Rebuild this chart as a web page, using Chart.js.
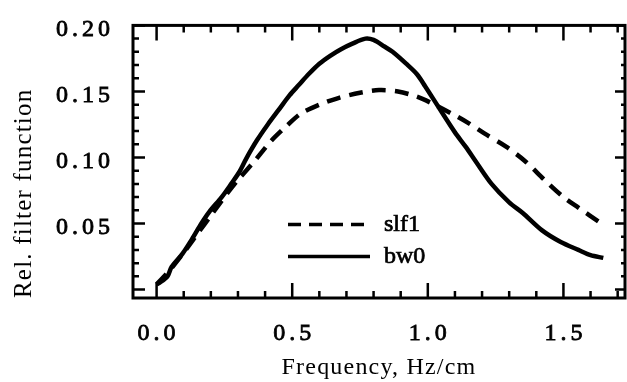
<!DOCTYPE html>
<html>
<head>
<meta charset="utf-8">
<script src="https://cdn.jsdelivr.net/npm/chart.js@4.4.0/dist/chart.umd.min.js"></script>
<style>
  html, body { margin: 0; padding: 0; background: #fff; }
  #c { display: block; width: 627px; height: 382px; }
</style>
</head>
<body>
<canvas id="c" width="627" height="382"></canvas>
<script>
// Relative filter function vs frequency, two filters (slf1 dashed, bw0 solid).
const SERIF = '"Liberation Serif", "Times New Roman", Times, serif';

const X_TICKS = [0.0, 0.5, 1.0, 1.5];
const Y_TICKS = [0.05, 0.10, 0.15, 0.20];

// values
const BW0_FREQ = [0.00, 0.01, 0.04, 0.055, 0.095, 0.13, 0.165, 0.195, 0.24, 0.275, 0.305, 0.33, 0.37, 0.41,
  0.45, 0.49, 0.525, 0.56, 0.60, 0.64, 0.68, 0.72, 0.77, 0.80, 0.84, 0.87, 0.92, 0.96, 0.99, 1.04,
  1.10, 1.14, 1.18, 1.235, 1.30, 1.35, 1.42, 1.49, 1.555, 1.60, 1.647];
const BW0_VAL = [0.004, 0.005, 0.010, 0.017, 0.027, 0.038, 0.050, 0.059, 0.070, 0.080, 0.089, 0.099, 0.113, 0.125,
  0.136, 0.147, 0.155, 0.163, 0.171, 0.177, 0.182, 0.186, 0.190, 0.189, 0.184, 0.180, 0.171, 0.163, 0.154, 0.138,
  0.119, 0.108, 0.096, 0.080, 0.066, 0.058, 0.045, 0.036, 0.030, 0.026, 0.024];

const SLF1_FREQ = [0.00, 0.05, 0.10, 0.15, 0.20, 0.25, 0.30, 0.36, 0.42, 0.48, 0.53, 0.60, 0.67, 0.75, 0.82,
  0.89, 0.96, 1.015, 1.09, 1.15, 1.21, 1.29, 1.36, 1.43, 1.50, 1.555, 1.64];
const SLF1_VAL = [0.004, 0.015, 0.028, 0.042, 0.056, 0.070, 0.083, 0.097, 0.112, 0.124, 0.133, 0.140, 0.145, 0.149, 0.151,
  0.150, 0.146, 0.141, 0.133, 0.126, 0.118, 0.108, 0.097, 0.083, 0.070, 0.062, 0.050];

const zip = (xs, ys) => xs.map((x, i) => ({ x, y: ys[i] }));

// box + inward ticks on all four sides; letter spacing for scanned-looking labels
const frame = {
  id: 'frame',
  beforeDraw(chart) { chart.ctx.letterSpacing = '1.2px'; },
  afterDatasetsDraw(chart) {
    const { ctx, chartArea: a, scales: { x, y } } = chart;
    ctx.save();
    ctx.strokeStyle = '#000';
    ctx.lineWidth = 3;
    ctx.strokeRect(a.left, a.top, a.right - a.left, a.bottom - a.top);
    ctx.lineWidth = 2.5;
    ctx.beginPath();
    for (let i = 0; i <= 17; i++) {
      const px = x.getPixelForValue(i / 10);
      if (px > a.right - 2) continue;
      const len = i % 5 === 0 ? 15 : 7;
      ctx.moveTo(px, a.bottom); ctx.lineTo(px, a.bottom - len);
      ctx.moveTo(px, a.top); ctx.lineTo(px, a.top + len);
    }
    for (let i = 0; i <= 20; i++) {
      const py = y.getPixelForValue(i / 100);
      const major = i % 5 === 0;
      ctx.moveTo(a.left, py); ctx.lineTo(a.left + (major ? 12 : 6), py);
      ctx.moveTo(a.right, py); ctx.lineTo(a.right - (major ? 10 : 4), py);
    }
    ctx.stroke();
    ctx.restore();
    ctx.letterSpacing = '4px'; // tick labels are drawn after this (ticks.z = 1)
  },
  afterDraw(chart) { chart.ctx.letterSpacing = '0px'; },
};

// legend sits inside the plot, below the curves
const innerLegend = {
  id: 'innerLegend',
  afterDraw(chart) {
    const { ctx, chartArea: a } = chart;
    const x0 = a.left + 155, x1 = x0 + 82;
    let y = a.top + 199;
    ctx.save();
    ctx.letterSpacing = '0px';
    ctx.font = `24px ${SERIF}`;
    ctx.fillStyle = '#000';
    ctx.strokeStyle = '#000';
    ctx.textBaseline = 'middle';
    for (const ds of chart.data.datasets) {
      ctx.beginPath();
      ctx.setLineDash(ds.legendDash || []);
      ctx.lineWidth = 3.5;
      ctx.moveTo(x0, y); ctx.lineTo(x1, y);
      ctx.stroke();
      ctx.setLineDash([]);
      ctx.lineWidth = 0.7;
      ctx.fillText(ds.label, x1 + 14, y);
      ctx.strokeText(ds.label, x1 + 14, y);
      y += 32;
    }
    ctx.restore();
  },
};

new Chart(document.getElementById('c'), {
  type: 'line',
  data: {
    datasets: [
      {
        label: 'slf1',
        data: zip(SLF1_FREQ, SLF1_VAL),
        borderColor: '#000',
        borderWidth: 4.5,
        borderDash: [14, 9],
        legendDash: [13, 8],
        pointRadius: 0,
        tension: 0.3,
        fill: false,
      },
      {
        label: 'bw0',
        data: zip(BW0_FREQ, BW0_VAL),
        borderColor: '#000',
        borderWidth: 4.5,
        pointRadius: 0,
        tension: 0.3,
        fill: false,
      },
    ],
  },
  options: {
    responsive: false,
    animation: false,
    devicePixelRatio: 1,
    layout: { padding: { top: 16, right: 2, left: 0, bottom: 0 } },
    plugins: { legend: { display: false }, tooltip: { enabled: false } },
    scales: {
      x: {
        type: 'linear',
        min: -0.087,
        max: 1.727,
        grid: { display: false },
        border: { display: false },
        afterBuildTicks: (s) => { s.ticks = X_TICKS.map((v) => ({ value: v })); },
        afterFit: (s) => { s.height = 84; },
        ticks: {
          z: 1, padding: 13, labelOffset: 2, color: '#000', maxRotation: 0, autoSkip: false,
          textStrokeColor: '#000', textStrokeWidth: 0.8,
          font: { family: SERIF, size: 24 },
          callback: (v) => Number(v).toFixed(1),
        },
        title: {
          display: true, text: 'Frequency, Hz/cm', color: '#000',
          font: { family: SERIF, size: 24 }, padding: { top: 0, bottom: 0 },
        },
      },
      y: {
        type: 'linear',
        min: -0.0064,
        max: 0.2,
        grid: { display: false },
        border: { display: false },
        afterBuildTicks: (s) => { s.ticks = Y_TICKS.map((v) => ({ value: v })); },
        afterFit: (s) => { s.width = 133; },
        ticks: {
          z: 1, padding: 11, labelOffset: 4, color: '#000', autoSkip: false,
          textStrokeColor: '#000', textStrokeWidth: 0.8,
          font: { family: SERIF, size: 24 },
          callback: (v) => Number(v).toFixed(2),
        },
        title: {
          display: true, text: 'Rel. filter function', color: '#000', align: 'start',
          font: { family: SERIF, size: 25 }, padding: { top: 9, bottom: 0 },
        },
      },
    },
  },
  plugins: [frame, innerLegend],
});
</script>
</body>
</html>
